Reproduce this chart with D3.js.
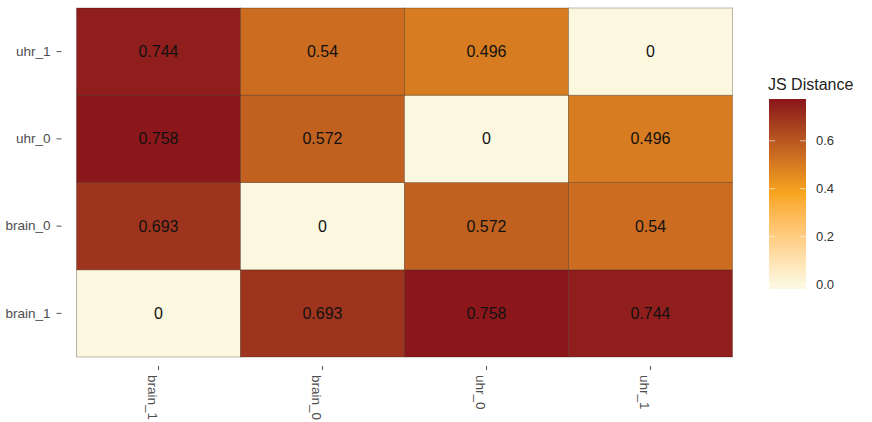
<!DOCTYPE html>
<html><head><meta charset="utf-8">
<script src="https://cdn.jsdelivr.net/npm/d3@7"></script>
<style>body{margin:0;background:#fff}svg{display:block;font-family:"Liberation Sans",Arial,sans-serif}</style>
</head><body><svg id="c" width="872" height="422"></svg>
<script>
const xCats = ["brain_1","brain_0","uhr_0","uhr_1"];
const yCats = ["brain_1","brain_0","uhr_0","uhr_1"]; // bottom to top
// rows keyed by y category, values in xCats order
const rowBrain1 = [0, 0.693, 0.758, 0.744];
const rowBrain0 = [0.693, 0, 0.572, 0.54];
const rowUhr0 = [0.758, 0.572, 0, 0.496];
const rowUhr1 = [0.744, 0.54, 0.496, 0];
const legendTicks = [0, 0.2, 0.4, 0.6];
const legendTitle = "JS Distance";

const rows = [rowBrain1, rowBrain0, rowUhr0, rowUhr1];
const cells = [];
rows.forEach((r, yi) => r.forEach((v, xi) => cells.push({x: xCats[xi], y: yCats[yi], v})));
const vmax = d3.max(cells, d => d.v);

const svg = d3.select("#c");
const m = {l: 76.5, t: 8, r: 732.5, b: 357};
const x = d3.scaleBand().domain(xCats).range([m.l, m.r]);
const y = d3.scaleBand().domain(yCats).range([m.b, m.t]);
const color = d3.scaleLinear().domain([0, vmax/2, vmax]).range(["#fcf8e0", "#f9a61e", "#8c171b"]).interpolate(d3.interpolateLab);

svg.append("g").selectAll("rect").data(cells).join("rect")
  .attr("x", d => x(d.x)).attr("y", d => y(d.y))
  .attr("width", x.bandwidth()).attr("height", y.bandwidth())
  .attr("fill", d => color(d.v))
  .attr("stroke", "rgba(40,20,0,0.3)").attr("stroke-width", 1);

svg.append("g").selectAll("text").data(cells).join("text")
  .attr("x", d => x(d.x) + x.bandwidth()/2).attr("y", d => y(d.y) + y.bandwidth()/2)
  .attr("text-anchor", "middle").attr("dominant-baseline", "central")
  .attr("font-size", 16).attr("fill", "#111").text(d => d.v === 0 ? "0" : String(d.v));

// y axis
const ya = svg.append("g").attr("transform", `translate(${m.l - 15},0)`)
  .call(d3.axisLeft(y).tickSize(5).tickPadding(6));
ya.select(".domain").remove();
ya.selectAll("line").attr("stroke", "#555");
ya.selectAll("text").attr("font-size", 13.5).attr("fill", "#4d4d4d").attr("font-family", "Liberation Sans, Arial, sans-serif");

// x axis
const xa = svg.append("g").attr("transform", `translate(0,${m.b + 9})`)
  .call(d3.axisBottom(x).tickSize(4).tickPadding(0));
xa.select(".domain").remove();
xa.selectAll("line").attr("stroke", "#555");
xa.selectAll("text").attr("font-size", 13.5).attr("fill", "#4d4d4d").attr("font-family", "Liberation Sans, Arial, sans-serif")
  .attr("transform", "translate(0,9) rotate(90)").attr("text-anchor", "start").attr("dy", "0.35em").attr("y", 6).attr("x", 0);

// legend
const lg = {x: 769, w: 37, top: 99, bot: 289};
const ls = d3.scaleLinear().domain([0, vmax]).range([284.5, 103]);
const defs = svg.append("defs");
const grad = defs.append("linearGradient").attr("id", "g").attr("x1", 0).attr("y1", 1).attr("x2", 0).attr("y2", 0);
d3.range(0, 1.0001, 0.05).forEach(t => {
  const v = Math.max(0, Math.min(vmax, ls.invert(lg.bot - t*(lg.bot-lg.top))));
  grad.append("stop").attr("offset", t).attr("stop-color", color(v));
});
svg.append("rect").attr("x", lg.x).attr("y", lg.top).attr("width", lg.w).attr("height", lg.bot-lg.top).attr("fill", "url(#g)");
const lt = svg.append("g");
legendTicks.forEach(v => {
  lt.append("line").attr("x1", lg.x).attr("x2", lg.x+6).attr("y1", ls(v)).attr("y2", ls(v)).attr("stroke", "rgba(255,255,255,0.6)").attr("stroke-width", 1);
  lt.append("line").attr("x1", lg.x+lg.w-6).attr("x2", lg.x+lg.w).attr("y1", ls(v)).attr("y2", ls(v)).attr("stroke", "rgba(255,255,255,0.6)").attr("stroke-width", 1);
  lt.append("text").attr("x", lg.x+lg.w+10).attr("y", ls(v)).attr("dominant-baseline", "central")
    .attr("font-size", 13).attr("fill", "#333").text(d3.format(".1f")(v));
});
svg.append("text").attr("x", lg.x-1).attr("y", 90).attr("font-size", 16).attr("fill", "#222").text(legendTitle);
</script></body></html>
